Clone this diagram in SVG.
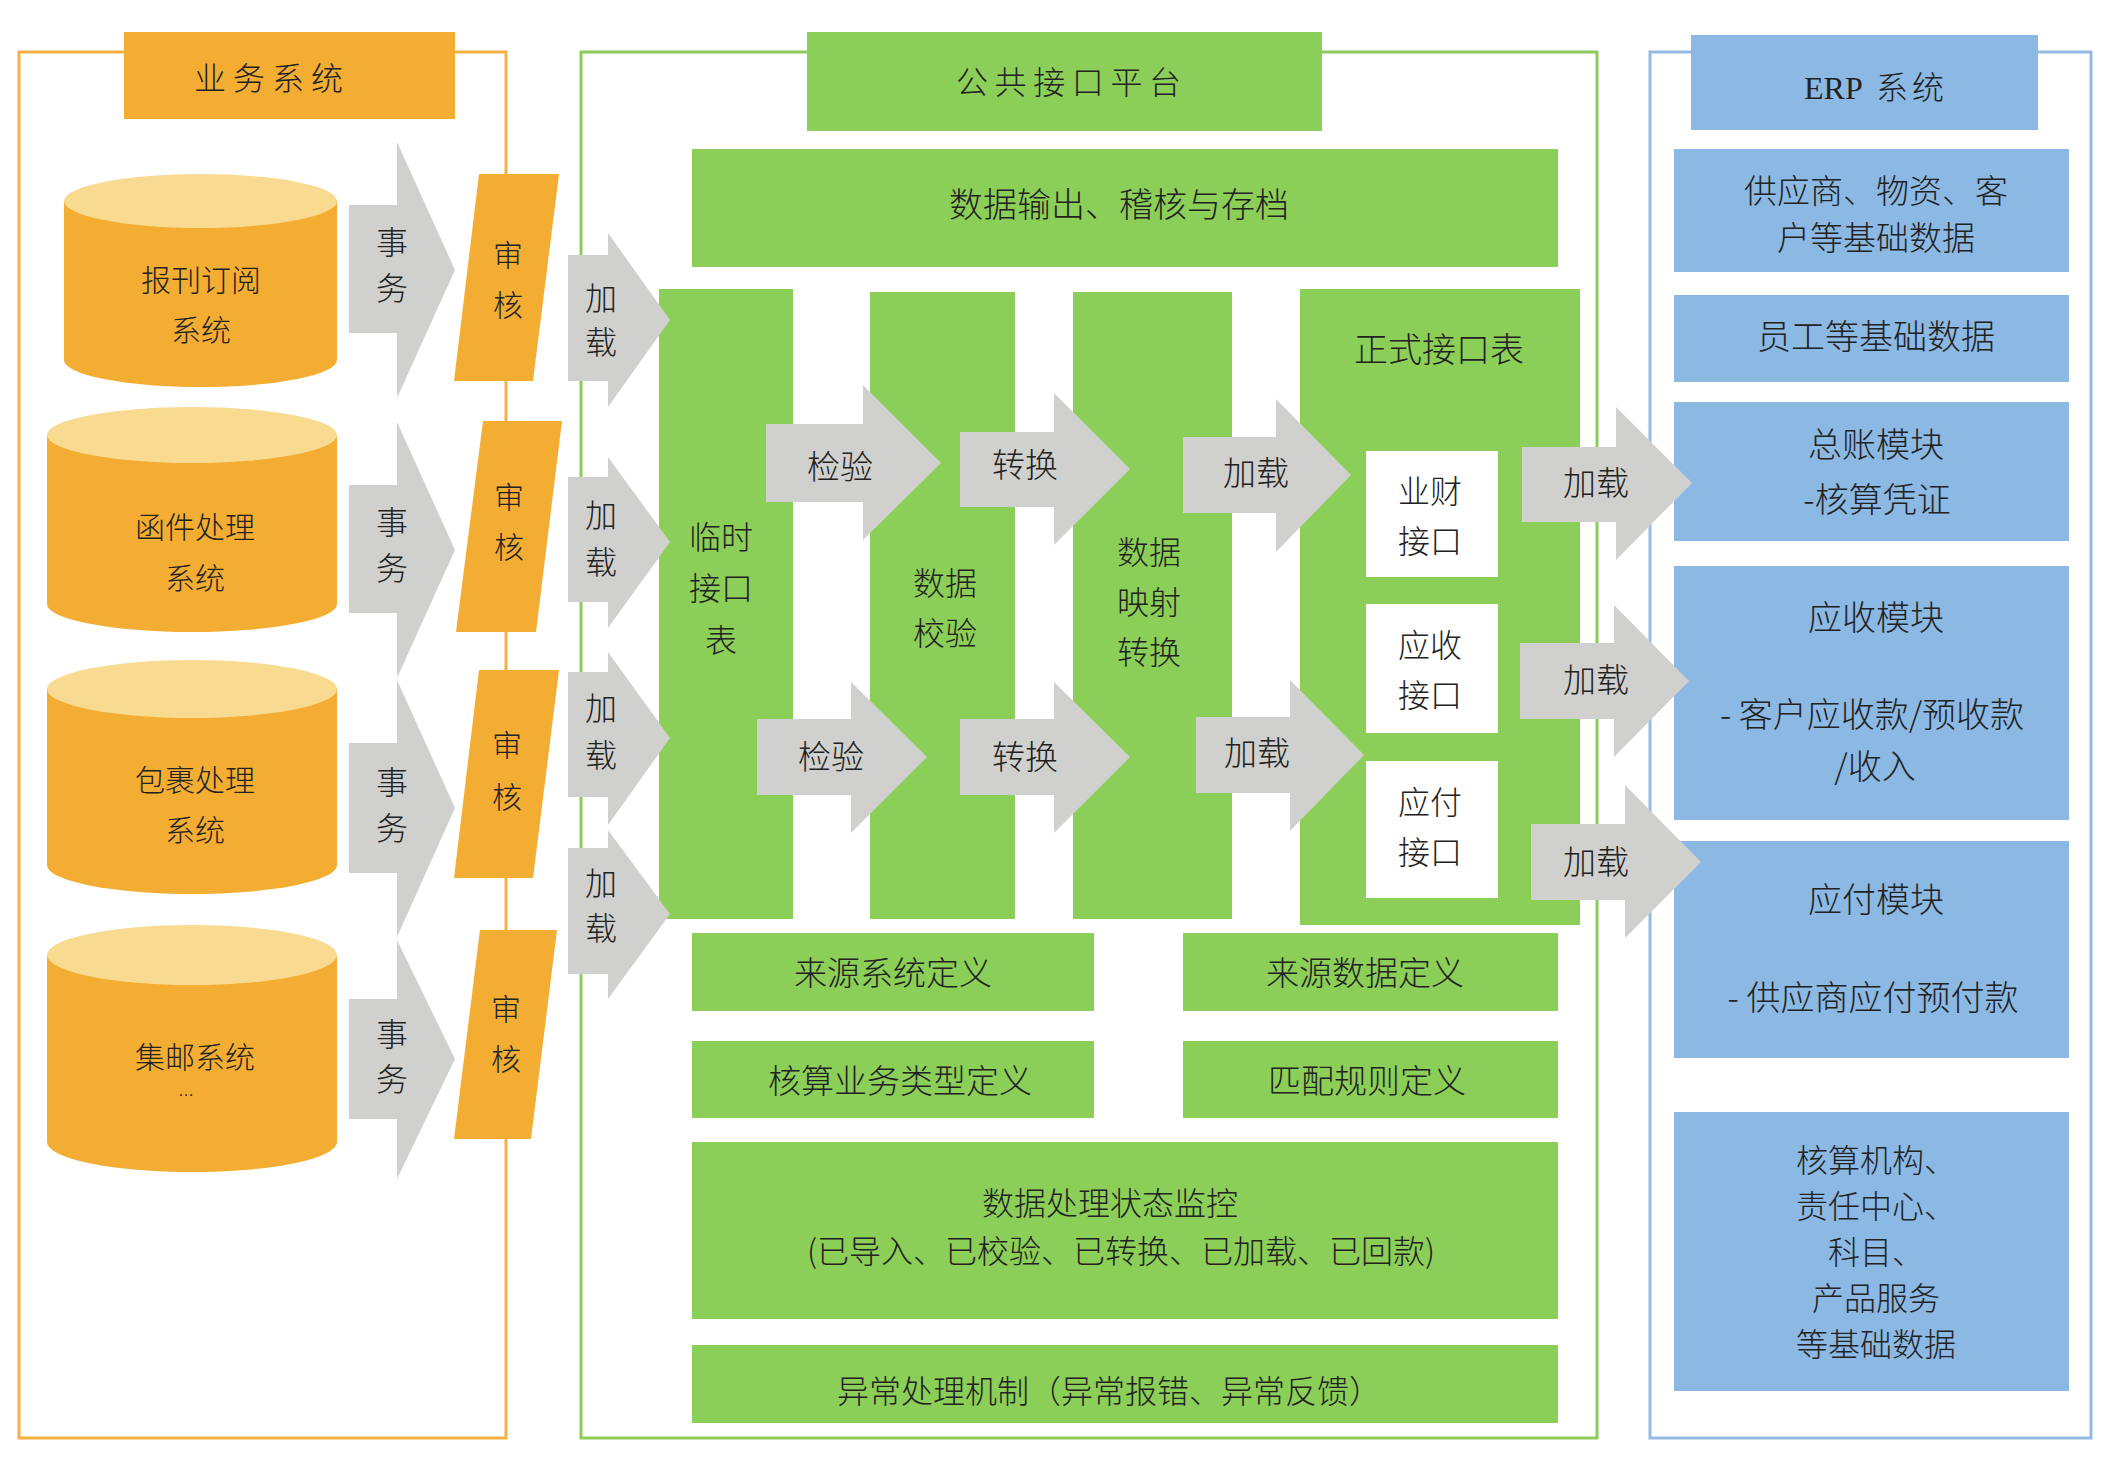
<svg xmlns="http://www.w3.org/2000/svg" width="2106" height="1466" viewBox="0 0 2106 1466">
<style>
text{font-family:"Noto Sans CJK SC","Noto Sans",sans-serif;font-weight:300;fill:#222;text-anchor:middle}
.o{fill:#F4AD33}
.ot{fill:#F8DB90}
.g{fill:#8CCF58}
.b{fill:#8BB9E4}
.w{fill:#FFFFFF}
.ar{fill:#D0D1CE}
.f30{font-size:30px}.f32{font-size:32px}.f33{font-size:33px}.f34{font-size:34px}
</style>
<rect width="2106" height="1466" fill="#FFFFFF"/>
<!-- frames -->
<g id="frames" fill="none" stroke-width="3">
<rect x="19" y="52" width="487" height="1386" stroke="#F4B045"/>
<rect x="581" y="52" width="1016" height="1386" stroke="#8CCB5C"/>
<rect x="1650" y="52" width="441" height="1386" stroke="#93BAE2"/>
</g>
<!-- left: business systems -->
<g id="title-business">
<rect class="o" x="124" y="32" width="331" height="87"/>
<text class="f32" x="194" y="90" style="text-anchor:start" letter-spacing="7">业务系统</text>
</g>
<g id="cyl-1">
<path class="o" d="M64 201 L64 360 A136.5 27 0 0 0 337 360 L337 201 Z"/>
<ellipse class="ot" cx="200.5" cy="201" rx="136.5" ry="27"/>
<text class="f30"><tspan x="201" y="291">报刊订阅</tspan><tspan x="201" y="341">系统</tspan></text>
</g>
<g id="cyl-2">
<path class="o" d="M47 435 L47 604 A145 28 0 0 0 337 604 L337 435 Z"/>
<ellipse class="ot" cx="192" cy="435" rx="145" ry="28"/>
<text class="f30"><tspan x="195" y="538">函件处理</tspan><tspan x="195" y="589">系统</tspan></text>
</g>
<g id="cyl-3">
<path class="o" d="M47 689 L47 865 A145 29 0 0 0 337 865 L337 689 Z"/>
<ellipse class="ot" cx="192" cy="689" rx="145" ry="29"/>
<text class="f30"><tspan x="195" y="791">包裹处理</tspan><tspan x="195" y="841">系统</tspan></text>
</g>
<g id="cyl-4">
<path class="o" d="M47 955 L47 1142 A145 30 0 0 0 337 1142 L337 955 Z"/>
<ellipse class="ot" cx="192" cy="955" rx="145" ry="30"/>
<text class="f30" x="195" y="1068">集邮系统</text>
<text x="186" y="1096" style="font-family:'Liberation Sans',sans-serif;font-size:16px">…</text>
</g>
<g id="audit-1">
<polygon class="o" points="479,174 559,174 533,381 454,381"/>
<text class="f30"><tspan x="508" y="266">审</tspan><tspan x="508" y="316">核</tspan></text>
</g>
<g id="audit-2">
<polygon class="o" points="483,421 562,421 536,632 456,632"/>
<text class="f30"><tspan x="509" y="508">审</tspan><tspan x="509" y="558">核</tspan></text>
</g>
<g id="audit-3">
<polygon class="o" points="479,670 559,670 533,878 454,878"/>
<text class="f30"><tspan x="507" y="756">审</tspan><tspan x="507" y="808">核</tspan></text>
</g>
<g id="audit-4">
<polygon class="o" points="480,930 557,930 531,1139 454,1139"/>
<text class="f30"><tspan x="506" y="1020">审</tspan><tspan x="506" y="1070">核</tspan></text>
</g>
<!-- center platform -->
<g id="title-platform">
<rect class="g" x="807" y="32" width="515" height="99"/>
<text class="f32" x="956" y="94" style="text-anchor:start" letter-spacing="6.6">公共接口平台</text>
</g>
<g id="output-archive">
<rect class="g" x="692" y="149" width="866" height="118"/>
<text class="f34" x="1119" y="217">数据输出、稽核与存档</text>
</g>
<g id="temp-table">
<rect class="g" x="659" y="289" width="134" height="630"/>
<text class="f32"><tspan x="721" y="549">临时</tspan><tspan x="721" y="600">接口</tspan><tspan x="721" y="652">表</tspan></text>
</g>
<g id="data-check">
<rect class="g" x="870" y="292" width="145" height="627"/>
<text class="f32"><tspan x="945" y="595">数据</tspan><tspan x="945" y="645">校验</tspan></text>
</g>
<g id="data-map">
<rect class="g" x="1073" y="292" width="159" height="627"/>
<text class="f32"><tspan x="1149" y="564">数据</tspan><tspan x="1149" y="614">映射</tspan><tspan x="1149" y="664">转换</tspan></text>
</g>
<g id="formal-table">
<rect class="g" x="1300" y="289" width="280" height="636"/>
<text class="f34" x="1439" y="362">正式接口表</text>
</g>
<g id="if-finance">
<rect class="w" x="1366" y="451" width="132" height="126"/>
<text class="f32"><tspan x="1430" y="503">业财</tspan><tspan x="1430" y="553">接口</tspan></text>
</g>
<g id="if-receivable">
<rect class="w" x="1366" y="604" width="132" height="129"/>
<text class="f32"><tspan x="1430" y="657">应收</tspan><tspan x="1430" y="707">接口</tspan></text>
</g>
<g id="if-payable">
<rect class="w" x="1366" y="761" width="132" height="137"/>
<text class="f32"><tspan x="1430" y="814">应付</tspan><tspan x="1430" y="864">接口</tspan></text>
</g>
<g id="src-system">
<rect class="g" x="692" y="933" width="402" height="78"/>
<text class="f33" x="893" y="985">来源系统定义</text>
</g>
<g id="src-data">
<rect class="g" x="1183" y="933" width="375" height="78"/>
<text class="f33" x="1365" y="985">来源数据定义</text>
</g>
<g id="biz-type">
<rect class="g" x="692" y="1041" width="402" height="77"/>
<text class="f33" x="900" y="1093">核算业务类型定义</text>
</g>
<g id="match-rule">
<rect class="g" x="1183" y="1041" width="375" height="77"/>
<text class="f33" x="1367" y="1093">匹配规则定义</text>
</g>
<g id="monitor">
<rect class="g" x="692" y="1142" width="866" height="177"/>
<text class="f32"><tspan x="1110" y="1215">数据处理状态监控</tspan><tspan x="1121" y="1263">(已导入、已校验、已转换、已加载、已回款)</tspan></text>
</g>
<g id="exception">
<rect class="g" x="692" y="1345" width="866" height="78"/>
<text class="f32" x="1109" y="1403">异常处理机制（异常报错、异常反馈）</text>
</g>
<!-- right: ERP -->
<g id="title-erp">
<rect class="b" x="1691" y="35" width="347" height="95"/>
<text class="f32" x="1804" y="99" style="text-anchor:start"><tspan style="font-family:'Liberation Serif',serif">ERP </tspan><tspan x="1876" letter-spacing="4">系统</tspan></text>
</g>
<g id="erp-basic1">
<rect class="b" x="1674" y="149" width="395" height="123"/>
<text class="f33"><tspan x="1876" y="203">供应商、物资、客</tspan><tspan x="1876" y="250">户等基础数据</tspan></text>
</g>
<g id="erp-basic2">
<rect class="b" x="1674" y="295" width="395" height="87"/>
<text class="f34" x="1876" y="349">员工等基础数据</text>
</g>
<g id="erp-gl">
<rect class="b" x="1674" y="402" width="395" height="139"/>
<text class="f34"><tspan x="1876" y="457">总账模块</tspan><tspan x="1877" y="512">-核算凭证</tspan></text>
</g>
<g id="erp-ar">
<rect class="b" x="1674" y="566" width="395" height="254"/>
<text class="f34"><tspan x="1876" y="630">应收模块</tspan><tspan x="1872" y="727">- 客户应收款/预收款</tspan><tspan x="1875" y="779">/收入</tspan></text>
</g>
<g id="erp-ap">
<rect class="b" x="1674" y="841" width="395" height="217"/>
<text class="f34"><tspan x="1876" y="912">应付模块</tspan><tspan x="1873" y="1010">- 供应商应付预付款</tspan></text>
</g>
<g id="erp-basic3">
<rect class="b" x="1674" y="1112" width="395" height="279"/>
<text class="f32"><tspan x="1876" y="1172">核算机构、</tspan><tspan x="1876" y="1218">责任中心、</tspan><tspan x="1876" y="1264">科目、</tspan><tspan x="1876" y="1310">产品服务</tspan><tspan x="1876" y="1356">等基础数据</tspan></text>
</g>
<!-- connectors: block arrows -->
<g id="connectors">
<polygon class="ar" points="349,205 397,205 397,142 455,270 397,398 397,333 349,333"/>
<polygon class="ar" points="349,485 397,485 397,422 455,550 397,678 397,613 349,613"/>
<polygon class="ar" points="349,743 397,743 397,680 455,808 397,937 397,873 349,873"/>
<polygon class="ar" points="349,999 397,999 397,940 455,1059 397,1179 397,1119 349,1119"/>
<polygon class="ar" points="568,255 608,255 608,233 670,320 608,407 608,381 568,381"/>
<polygon class="ar" points="568,477 608,477 608,457 670,542 608,628 608,602 568,602"/>
<polygon class="ar" points="568,672 608,672 608,652 670,738 608,825 608,797 568,797"/>
<polygon class="ar" points="568,848 608,848 608,830 670,914 608,999 608,974 568,974"/>
<polygon class="ar" points="766,424 863,424 863,385 941,463 863,540 863,502 766,502"/>
<polygon class="ar" points="960,432 1054,432 1054,393 1130,469 1054,545 1054,507 960,507"/>
<polygon class="ar" points="1183,437 1276,437 1276,399 1351,475 1276,552 1276,513 1183,513"/>
<polygon class="ar" points="757,719 851,719 851,682 927,757 851,833 851,795 757,795"/>
<polygon class="ar" points="960,719 1054,719 1054,682 1130,757 1054,833 1054,795 960,795"/>
<polygon class="ar" points="1196,717 1290,717 1290,680 1364,755 1290,831 1290,793 1196,793"/>
<polygon class="ar" points="1522,447 1616,447 1616,407 1692,483 1616,560 1616,522 1522,522"/>
<polygon class="ar" points="1520,643 1614,643 1614,605 1689,681 1614,757 1614,719 1520,719"/>
<polygon class="ar" points="1531,824 1625,824 1625,785 1701,862 1625,938 1625,900 1531,900"/>
<text class="f32"><tspan x="392" y="254">事</tspan><tspan x="392" y="300">务</tspan></text>
<text class="f32"><tspan x="392" y="534">事</tspan><tspan x="392" y="580">务</tspan></text>
<text class="f32"><tspan x="392" y="794">事</tspan><tspan x="392" y="840">务</tspan></text>
<text class="f32"><tspan x="392" y="1046">事</tspan><tspan x="392" y="1091">务</tspan></text>
<text class="f32"><tspan x="601" y="310">加</tspan><tspan x="601" y="354">载</tspan></text>
<text class="f32"><tspan x="601" y="527">加</tspan><tspan x="601" y="574">载</tspan></text>
<text class="f32"><tspan x="601" y="720">加</tspan><tspan x="601" y="767">载</tspan></text>
<text class="f32"><tspan x="601" y="895">加</tspan><tspan x="601" y="940">载</tspan></text>
<text class="f33" x="840" y="479">检验</text>
<text class="f33" x="1025" y="477">转换</text>
<text class="f33" x="1256" y="485">加载</text>
<text class="f33" x="831" y="769">检验</text>
<text class="f33" x="1025" y="769">转换</text>
<text class="f33" x="1257" y="765">加载</text>
<text class="f33" x="1596" y="495">加载</text>
<text class="f33" x="1596" y="692">加载</text>
<text class="f33" x="1596" y="874">加载</text>
</g>
</svg>
